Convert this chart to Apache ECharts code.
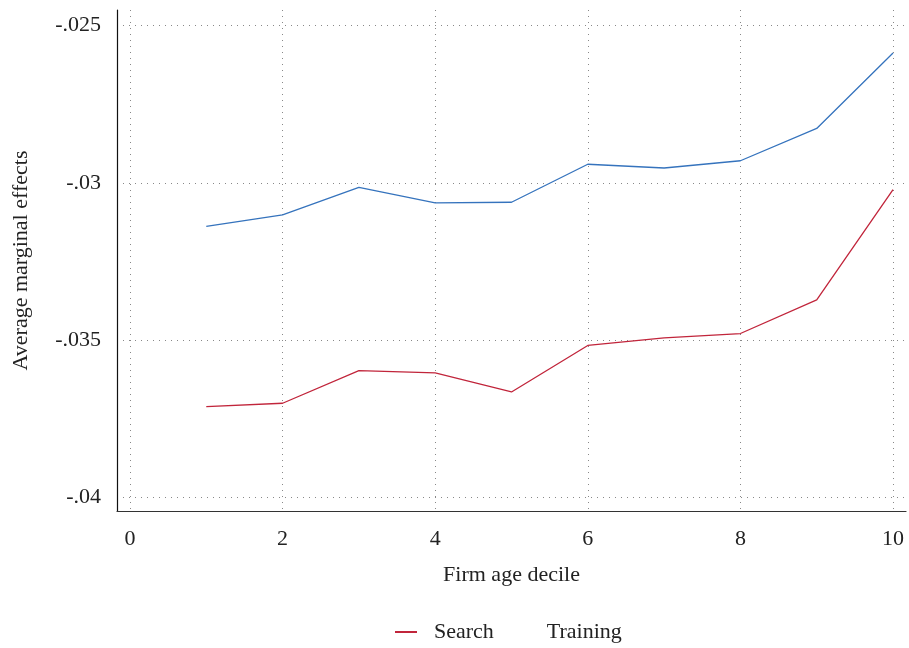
<!DOCTYPE html>
<html><head><meta charset="utf-8">
<script src="https://cdn.jsdelivr.net/npm/echarts@6/dist/echarts.min.js"></script>
<style>html,body{margin:0;padding:0;background:#fff}#c{width:909px;height:648px}</style>
</head><body><div id="c"></div>
<script>
const deciles = [1, 2, 3, 4, 5, 6, 7, 8, 9, 10];
const searchVals = [-0.03713, -0.03702, -0.03598, -0.03605, -0.03666, -0.03518, -0.03494, -0.03480, -0.03373, -0.03022];
const trainingVals = [-0.03139, -0.03102, -0.03015, -0.03064, -0.03062, -0.02941, -0.02953, -0.02930, -0.02827, -0.02587];
const xTicks = [0, 2, 4, 6, 8, 10];
const yTicks = [-0.04, -0.035, -0.03, -0.025];
const yTickLabels = ['-.04', '-.035', '-.03', '-.025'];

const font = '"Liberation Serif", "DejaVu Serif", serif';
const chart = echarts.init(document.getElementById('c'));
chart.setOption({
  animation: false,
  backgroundColor: '#fff',
  textStyle: { fontFamily: font },
  grid: { left: 117, right: 3, top: 10, bottom: 137, containLabel: false, outerBoundsMode: 'none' },
  xAxis: {
    type: 'value', min: -0.17, max: 10.17,
    name: 'Firm age decile', nameLocation: 'middle', nameGap: 53,
    nameTextStyle: { fontFamily: font, fontSize: 22, color: '#222' },
    axisLine: { show: true, onZero: false, lineStyle: { color: '#333', width: 1.2 } },
    axisTick: { show: false, customValues: xTicks },
    axisLabel: { customValues: xTicks, fontFamily: font, fontSize: 22, color: '#222', margin: 17 },
    splitLine: { show: true, lineStyle: { type: [1, 5], color: '#888', width: 1 } }
  },
  yAxis: {
    type: 'value', min: -0.04045, max: -0.0245,
    name: 'Average marginal effects', nameLocation: 'middle', nameGap: 85,
    nameTextStyle: { fontFamily: font, fontSize: 22, color: '#222' },
    axisLine: { show: true, onZero: false, lineStyle: { color: '#111', width: 1.2 } },
    axisTick: { show: false, customValues: yTicks },
    axisLabel: {
      customValues: yTicks, fontFamily: font, fontSize: 22, color: '#222', margin: 16,
      formatter: v => { const i = yTicks.findIndex(t => Math.abs(t - v) < 1e-9); return i >= 0 ? yTickLabels[i] : ''; }
    },
    splitLine: { show: true, lineStyle: { type: [1, 5], color: '#888', width: 1 } }
  },
  legend: {
    bottom: 0, left: 390, itemWidth: 22, itemHeight: 2, itemGap: 14,
    icon: 'rect',
    textStyle: { fontFamily: font, fontSize: 22, color: '#222', padding: [0, 0, 0, 12] },
    data: [
      { name: 'Search' },
      { name: 'Training', itemStyle: { opacity: 0 } }
    ]
  },
  series: [
    { name: 'Search', type: 'line', data: deciles.map((d, i) => [d, searchVals[i]]),
      showSymbol: false, symbol: 'none', lineStyle: { color: '#c1253b', width: 1.3 }, itemStyle: { color: '#c1253b' } },
    { name: 'Training', type: 'line', data: deciles.map((d, i) => [d, trainingVals[i]]),
      showSymbol: false, symbol: 'none', lineStyle: { color: '#3573bd', width: 1.3 }, itemStyle: { color: '#3573bd' } }
  ]
});
</script></body></html>
